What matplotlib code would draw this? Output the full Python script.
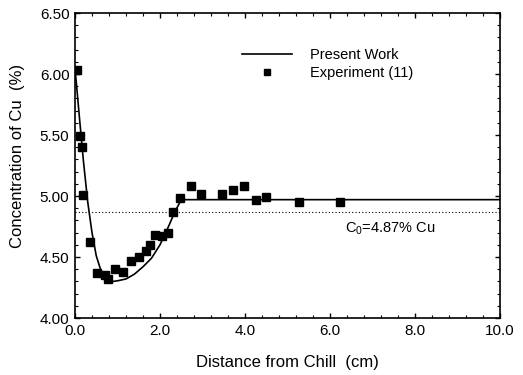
import matplotlib
matplotlib.use("Agg")
import matplotlib.pyplot as plt
from matplotlib.ticker import MultipleLocator, FormatStrFormatter

plt.rcParams['font.family'] = ['Liberation Sans', 'DejaVu Sans']

# model curve (Present Work)
curve_x = [0.0, 0.1, 0.2, 0.3, 0.4, 0.5, 0.6, 0.7, 0.8, 0.9, 1.0, 1.2, 1.4,
           1.6, 1.8, 2.0, 2.2, 2.35, 2.5, 10.0]
curve_y = [6.05, 5.66, 5.28, 4.95, 4.70, 4.51, 4.40, 4.34, 4.31, 4.30, 4.305,
           4.32, 4.36, 4.42, 4.49, 4.60, 4.75, 4.87, 4.97, 4.97]

# measured points, Experiment (11)
exp_x = [0.04, 0.12, 0.16, 0.19, 0.35, 0.51, 0.70, 0.78, 0.95, 1.13, 1.32,
         1.50, 1.67, 1.77, 1.89, 2.05, 2.18, 2.31, 2.48, 2.73, 2.97, 3.47,
         3.71, 3.97, 4.26, 4.50, 5.26, 6.24]
exp_y = [6.03, 5.49, 5.40, 5.01, 4.62, 4.37, 4.35, 4.32, 4.40, 4.38, 4.47,
         4.50, 4.55, 4.60, 4.68, 4.67, 4.70, 4.87, 4.98, 5.08, 5.02, 5.02,
         5.05, 5.08, 4.97, 4.99, 4.95, 4.95]

c0 = 4.87

fig = plt.figure(figsize=(5.23, 3.75), dpi=100)
ax = fig.add_axes([0.1434, 0.152, 0.8126, 0.8133])

ax.plot([0, 10], [c0, c0], color='black', lw=0.8, linestyle=(0, (1, 2)))
ax.plot(curve_x, curve_y, color='black', lw=1.2, label='Present Work')
ax.plot(exp_x, exp_y, linestyle='none', marker='s', ms=5.5, color='black',
        label='Experiment (11)')

ax.text(6.36, 4.735, r'C$_{\mathregular{0}}$=4.87% Cu', fontsize=10.5,
        va='center', ha='left')

ax.set_xlim(0, 10)
ax.set_ylim(4.0, 6.5)
ax.xaxis.set_major_locator(MultipleLocator(2.0))
ax.xaxis.set_minor_locator(MultipleLocator(0.4))
ax.yaxis.set_major_locator(MultipleLocator(0.5))
ax.yaxis.set_minor_locator(MultipleLocator(0.1))
ax.xaxis.set_major_formatter(FormatStrFormatter('%.1f'))
ax.yaxis.set_major_formatter(FormatStrFormatter('%.2f'))
ax.tick_params(which='both', direction='in', top=True, right=True,
               labelsize=11)
ax.tick_params(which='major', length=3.5, width=1.0)
ax.tick_params(axis='x', which='major', pad=4)
ax.tick_params(axis='y', which='major', pad=4)
ax.tick_params(which='minor', length=2, width=0.8)
for s in ax.spines.values():
    s.set_linewidth(1.2)

ax.set_xlabel('Distance from Chill  (cm)', fontsize=12)
ax.set_ylabel('Concentration of Cu  (%)', fontsize=12)
ax.xaxis.set_label_coords(0.5, -0.122)
ax.yaxis.set_label_coords(-0.118, 0.53)

ax.legend(loc='upper left', bbox_to_anchor=(0.393, 0.885), frameon=False,
          fontsize=10.5, handlelength=3.4, handletextpad=1.25,
          labelspacing=0.3, borderpad=0, borderaxespad=0,
          markerscale=0.85)

fig.savefig('out.png', dpi=100)
